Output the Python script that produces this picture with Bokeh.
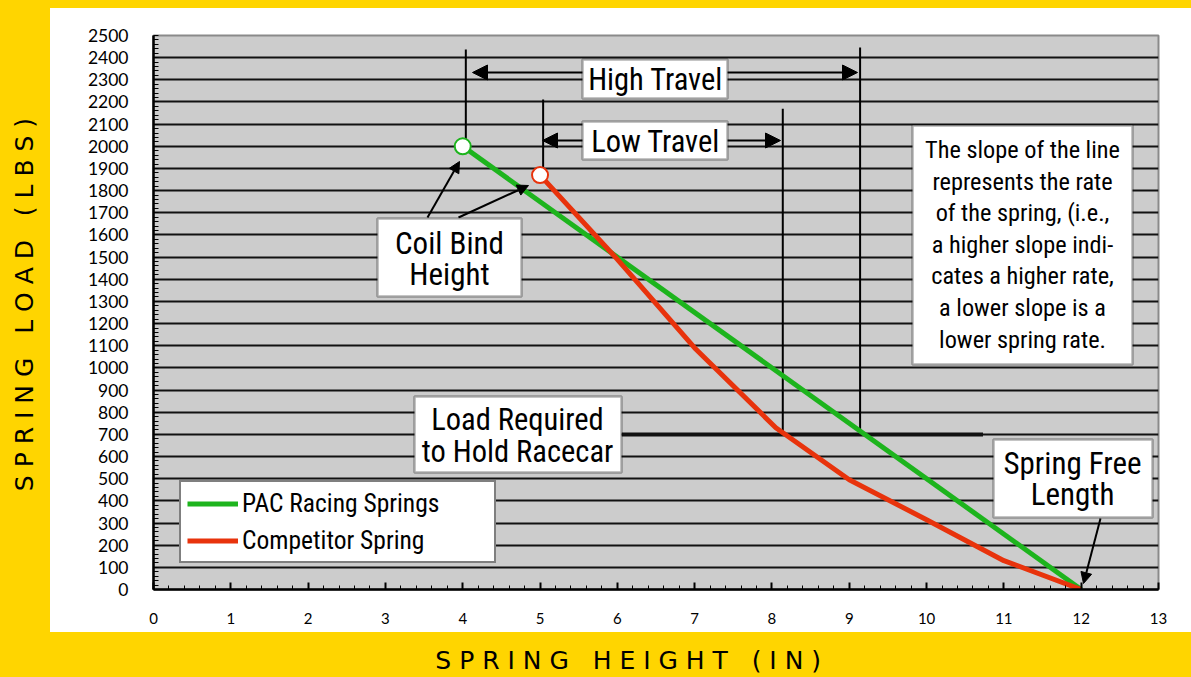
import numpy as np
from bokeh.plotting import figure
from bokeh.models import (FixedTicker, BoxAnnotation, Label, Arrow, NormalHead,
                          Legend, LegendItem, GlobalInlineStyleSheet, Range1d)
from bokeh.embed import file_html
from bokeh.resources import INLINE

# ---------------- data ----------------
pac_height = [4, 12]
pac_load = [2000, 0]
comp_height = [5, 6, 7, 8.05, 9, 10, 11, 12]
comp_load = [1870, 1490, 1090, 730, 495, 315, 130, 0]

hold_load = 700
travel_x = [4.04, 5.04, 8.14, 9.14]
travel_bottom = [2000, 1870, 700, 700]
travel_top = [2437, 2211, 2170, 2446]

x_ticks = list(range(0, 14))
y_ticks = list(range(0, 2501, 100))

series_names = ["PAC Racing Springs", "Competitor Spring"]
note_lines = ["The slope of the line", "represents the rate", "of the spring, (i.e.,",
              "a higher slope indi-", "cates a higher rate,", "a lower slope is a",
              "lower spring rate."]
x_title = "SPRING HEIGHT (IN)"
y_title = "SPRING LOAD (LBS)"

# ---------------- style ----------------
YELLOW = "#FFD500"
GRAY = "#CCCCCC"
GREEN = "#1DB41D"
RED = "#E8330C"
NARROW = "'Roboto Condensed', 'Liberation Sans Narrow', 'DejaVu Sans Condensed', Roboto"
TICKFONT = "Lato"
TITLEFONT = "DejaVu Sans"
NB = "\u00a0"

W, H = 1191, 677
FW, FH = 1005, 554
ML, MT = 153, 35
XS = FW / 13.0
YS = FH / 2500.0


# layout helpers: reference-pixel position -> data position (annotations only)
def px(xp):
    return (xp - ML) / XS


def py(yp):
    return (MT + FH - yp) / YS


def spaced(s):
    return NB.join(s)


p = figure(frame_width=FW, frame_height=FH, x_range=Range1d(0, 13), y_range=Range1d(0, 2500),
           output_backend="svg", toolbar_location=None,
           min_border_left=ML, min_border_right=W - ML - FW, min_border_top=MT,
           min_border_bottom=H - MT - FH,
           background_fill_color=GRAY, border_fill_color=None, border_fill_alpha=0)
css = ("html { background: linear-gradient(#ffffff, #ffffff) 50px 8px / 1141px 624px no-repeat, %s; }"
       " body { margin: 0; overflow: hidden; background: transparent; }") % YELLOW
p.stylesheets = [GlobalInlineStyleSheet(css=css)]

p.outline_line_color = "#8a8a8a"
p.outline_line_width = 2

p.xgrid.visible = False
p.ygrid.ticker = FixedTicker(ticks=y_ticks[1:-1])
p.ygrid.grid_line_color = "#111111"
p.ygrid.grid_line_width = 2

p.xaxis.ticker = FixedTicker(ticks=x_ticks, minor_ticks=np.round(np.arange(0, 13.01, 0.2), 2).tolist())
p.yaxis.ticker = FixedTicker(ticks=y_ticks, minor_ticks=list(range(0, 2501, 20)))
for ax in (p.xaxis[0], p.yaxis[0]):
    ax.axis_line_color = "black"
    ax.axis_line_width = 2.5
    ax.major_tick_line_color = "black"
    ax.minor_tick_line_color = "black"
    ax.major_tick_out = 0
    ax.minor_tick_out = 0
    ax.major_label_text_font = TICKFONT
    ax.major_label_text_color = "black"
    ax.axis_label_text_font = TITLEFONT
    ax.axis_label_text_font_size = "25px"
    ax.axis_label_text_font_style = "normal"
    ax.axis_label_text_color = "black"
p.xaxis.major_tick_in = 7
p.xaxis.minor_tick_in = 4
p.xaxis.major_tick_line_width = 2
p.xaxis.major_label_text_font_size = "15px"
p.xaxis.major_label_standoff = 23
p.yaxis.major_tick_in = 0
p.yaxis.minor_tick_in = 5
p.yaxis.major_label_text_font_size = "17.5px"
p.yaxis.major_label_standoff = 25

# axis titles (letter-spaced; padding shifts them to the reference position)
p.xaxis.axis_label = spaced(x_title) + NB * 7
p.xaxis.axis_label_standoff = 19
p.yaxis.axis_label = NB * 2 + spaced(y_title)
p.yaxis.axis_label_standoff = 46

# travel markers
p.segment(x0=travel_x, y0=travel_bottom, x1=travel_x, y1=travel_top, line_color="black", line_width=2)
p.segment(x0=[px(621)], y0=[hold_load], x1=[10.73], y1=[hold_load], line_color="#111111", line_width=4)

# series
g = p.line(pac_height, pac_load, line_color=GREEN, line_width=5, line_join="round")
r = p.line(comp_height, comp_load, line_color=RED, line_width=5, line_join="round")
p.scatter([pac_height[0]], [pac_load[0]], size=16, fill_color="white", line_color=GREEN, line_width=2)
p.scatter([comp_height[0]], [comp_load[0]], size=16, fill_color="white", line_color=RED, line_width=2)


def arrow(x0, y0, x1, y1, size, both=False):
    head = lambda: NormalHead(size=size, fill_color="black", line_color="black", line_width=1)
    a = Arrow(x_start=px(x0), y_start=py(y0), x_end=px(x1), y_end=py(y1),
              end=head(), start=head() if both else None, line_color="black", line_width=2)
    p.add_layout(a)


arrow(472, 72, 857, 72, 15, both=True)
arrow(542, 140, 780, 140, 15, both=True)
arrow(427, 217, 459, 161, 11)
arrow(458, 217, 528, 185, 11)
arrow(1100, 518, 1083, 583, 11)


def box(x0, y0, x1, y1):
    p.add_layout(BoxAnnotation(left=px(x0), right=px(x1), top=py(y0), bottom=py(y1),
                               fill_color="white", fill_alpha=1, line_color="black",
                               line_width=2.5, level="annotation"))


def label(xc, yc, text, size):
    p.add_layout(Label(x=px(xc), y=py(yc), text=text, text_align="center",
                       text_baseline="middle", text_font=NARROW, text_font_size=size,
                       text_color="black"))


box(582, 59, 727, 98)
label(655, 79, "High Travel", "30.5px")
box(582, 121, 727, 159)
label(655, 141, "Low Travel", "30.5px")
box(377, 218, 521, 296)
label(449, 243, "Coil Bind", "31px")
label(449, 274, "Height", "31px")
box(414, 396, 621, 472)
label(517, 419, "Load Required", "30.5px")
label(517, 451, "to Hold Racecar", "30.5px")
box(993, 439, 1152, 517)
label(1072, 463, "Spring Free", "31px")
label(1072, 494, "Length", "31px")
box(912, 125, 1132, 364)
for i, t in enumerate(note_lines):
    label(1022, 149 + i * 31.6, t, "24.3px")

legend = Legend(items=[LegendItem(label=series_names[0], renderers=[g]),
                       LegendItem(label=series_names[1], renderers=[r])],
                location=(26, 26), orientation="vertical")
legend.label_text_font = NARROW
legend.label_text_font_size = "25.5px"
legend.label_text_color = "black"
legend.glyph_width = 51
legend.glyph_height = 29
legend.label_height = 29
legend.label_width = 246
legend.label_standoff = 4
legend.spacing = 7
legend.padding = 6
legend.margin = 0
legend.border_line_color = "black"
legend.border_line_width = 2.5
legend.background_fill_color = "white"
legend.background_fill_alpha = 1
p.add_layout(legend)

open("out.html", "w").write(file_html(p, INLINE))
